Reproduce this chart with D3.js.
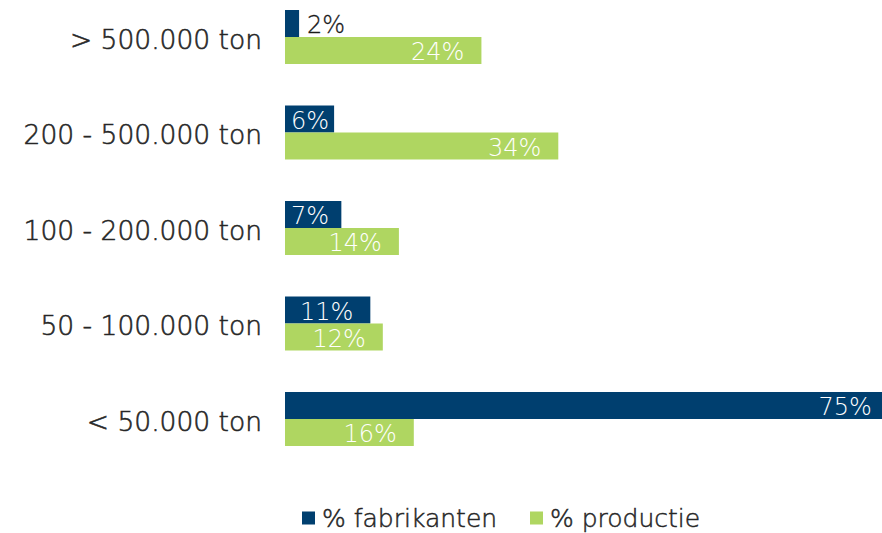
<!DOCTYPE html>
<html>
<head>
<meta charset="utf-8">
<script src="https://cdn.jsdelivr.net/npm/d3@7"></script>
<style>
  html, body { margin: 0; padding: 0; background: #fff; }
  svg { display: block; }
  text { font-family: "DejaVu Sans", sans-serif; }
</style>
</head>
<body>
<svg id="chart" width="882" height="533"></svg>
<script>
const categories = ["> 500.000 ton", "200 - 500.000 ton", "100 - 200.000 ton", "50 - 100.000 ton", "< 50.000 ton"];
const seriesNames = ["% fabrikanten", "% productie"];
const fabrikanten = [1.75, 6.1, 7.0, 10.6, 75];
const productie = [24.4, 33.95, 14.15, 12.15, 16.0];
const colors = ["#003f6f", "#afd661"];

const svg = d3.select("#chart");
const x0 = 285;
const pxPerUnit = 8.05;
const x = d3.scaleLinear().domain([0, 1]).range([x0, x0 + pxPerUnit]);

const step = 95.5;
const yTop = 37 - step / 2;
const y = d3.scaleBand().domain(categories).range([yTop, yTop + step * categories.length])
  .paddingInner(0.4346).paddingOuter(0.2173);
const sub = d3.scaleBand().domain(seriesNames).range([0, y.bandwidth()]);

const data = categories.map((c, i) => ({ cat: c, vals: [fabrikanten[i], productie[i]] }));

const groups = svg.append("g").selectAll("g.grp").data(data).join("g")
  .attr("transform", d => `translate(0,${y(d.cat)})`);

groups.selectAll("rect").data(d => d.vals.map((v, j) => ({ v, s: seriesNames[j], j })))
  .join("rect")
  .attr("x", x(0))
  .attr("y", d => sub(d.s))
  .attr("width", d => x(d.v) - x(0))
  .attr("height", sub.bandwidth())
  .attr("fill", d => colors[d.j]);

groups.selectAll("text.val").data(d => d.vals.map((v, j) => ({ v, s: seriesNames[j], j })))
  .join("text")
  .attr("class", "val")
  .attr("y", d => sub(d.s) + sub.bandwidth() / 2)
  .attr("dy", "0.4em")
  .attr("font-size", 24)
  .attr("font-weight", 200)
  .each(function(d) {
    const w = x(d.v) - x(0);
    const t = d3.select(this).text(Math.round(d.v) + "%");
    if (w < 30) {
      t.attr("x", x(d.v) + 8).attr("text-anchor", "start").attr("fill", "#1a1a1a")
        .attr("stroke", "#1a1a1a").attr("stroke-width", 0.3);
    } else {
      const tw = this.getComputedTextLength();
      const right = Math.max(x(d.v) - 17, x(0) + 6 + tw);
      t.attr("x", right).attr("text-anchor", "end").attr("fill", "#ffffff");
    }
  });

const yAxis = d3.axisLeft(y).tickSize(0).tickPadding(0);
const ax = svg.append("g").attr("transform", `translate(262,0)`).call(yAxis);
ax.select(".domain").remove();
ax.selectAll("text")
  .attr("font-size", 26.5)
  .attr("font-family", "DejaVu Sans, sans-serif")
  .attr("font-weight", 200)
  .attr("dy", "0.44em")
  .attr("fill", "#262626")
  .attr("stroke", "#262626")
  .attr("stroke-width", 0.55);

const legend = svg.append("g").attr("transform", "translate(302,518)");
const items = [{ name: seriesNames[0], x: 0 }, { name: seriesNames[1], x: 228 }];
items.forEach((it, j) => {
  legend.append("rect").attr("x", it.x).attr("y", -6.5).attr("width", 13).attr("height", 13).attr("fill", colors[j]);
  legend.append("text").attr("x", it.x + 20).attr("y", 0).attr("dy", "0.36em")
    .attr("font-size", 25).attr("font-weight", 200).attr("fill", "#262626")
    .attr("stroke", "#262626").attr("stroke-width", 0.5).text(it.name);
});
</script>
</body>
</html>
